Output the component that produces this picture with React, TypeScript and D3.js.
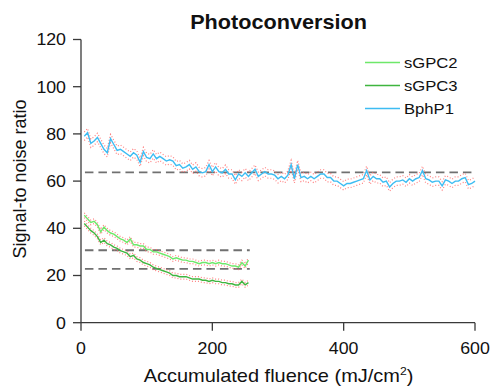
import React from "react";
import * as d3 from "d3";

const bphValues = [
  79, 80.5, 76, 77, 78.5, 76, 73.5, 72, 78, 75.5,
  73, 73.5, 72.5, 71.5, 70.5, 72, 71, 68, 72.5, 70,
  69.5, 71.5, 69.5, 70.5, 69.5, 68.5, 69, 68.5, 66.5, 67,
  65.5, 66, 67, 65, 66, 64, 63.5, 64, 67, 64,
  66, 64, 63.5, 65, 63, 63, 60.5, 63, 62, 63.5,
  62, 63.5, 65, 62, 63, 64, 63, 63, 62.5, 61,
  62, 61, 62.5, 67, 61, 67, 61.5, 62, 61, 62,
  61, 62, 63, 63, 61.5, 61.5, 60, 60, 59, 58,
  59, 59, 59.5, 60, 60.5, 61, 64.5, 60.5, 62, 61,
  61, 59.5, 60, 57.5, 59, 60, 60, 60.5, 59.5, 61,
  60, 61, 61.5, 64.5, 61, 60.5, 59.5, 60, 60, 58,
  60.5, 60, 59, 60, 60, 61, 61.5, 58.5, 59, 60,
];

const sgpc2Values = [
  45.5, 44, 42.5, 43, 41.5, 38.5, 40.5, 39, 38, 37.5,
  36.5, 35.5, 35, 34, 35.5, 33, 33, 32.5, 32.5, 31,
  31, 30, 30, 29.5, 29, 28.5, 28, 27, 27.5, 27,
  26.5, 26.5, 26, 26, 25.5, 25, 25.5, 25.5, 25, 25.5,
  25, 25.5, 25, 25, 24.5, 24, 24, 23.5, 25.5, 24,
  26.5,
];

const sgpc3Values = [
  42, 40.5, 39, 38, 36.5, 34, 35, 33.5, 33, 32,
  31.5, 30.5, 30, 29.5, 28, 28.5, 27, 26.5, 25.5, 25,
  24.5, 23.5, 23, 22.5, 22, 21.5, 21, 20, 20, 19.5,
  19.5, 19.5, 19, 18.5, 18.5, 18.5, 18, 18, 17.5, 18,
  17.5, 17.5, 17, 17, 16.5, 16.5, 16, 16, 17.5, 16,
  17,
];

const fluenceStep = 5;
const bphFluence = bphValues.map((_, i) => (i + 1) * fluenceStep);
const sgpcFluence = sgpc2Values.map((_, i) => (i + 1) * fluenceStep);

const bphPlateau = 63.7;
const sgpc2Plateau = 30.7;
const sgpc3Plateau = 22.8;
const bphSd = 1.8;
const sgpcSd = 1.0;

const xTicks = [0, 200, 400, 600];
const yTicks = [0, 20, 40, 60, 80, 100, 120];

const legendNames = ["sGPC2", "sGPC3", "BphP1"];
const colors = ["#6ee86a", "#3fb53f", "#3dbcf2"];

const FONT = "'Liberation Sans', Arial, Helvetica, sans-serif";
const SX = 1.11;

export default function App() {
  const x = d3.scaleLinear().domain([0, 600]).range([81, 475]);
  const y = d3.scaleLinear().domain([0, 120]).range([322.7, 39.5]);

  const mk = (xs: number[], vs: number[], off: number) =>
    d3
      .line<number>()
      .x((_, i) => x(xs[i]))
      .y((v) => y(v + off))(vs) || "";

  const series = [
    { xs: sgpcFluence, vs: sgpc2Values, sd: sgpcSd, color: colors[0] },
    { xs: sgpcFluence, vs: sgpc3Values, sd: sgpcSd, color: colors[1] },
    { xs: bphFluence, vs: bphValues, sd: bphSd, color: colors[2] },
  ];

  const dashes = [
    { v: bphPlateau, x0: 6, x1: 600 },
    { v: sgpc2Plateau, x0: 6, x1: 257 },
    { v: sgpc3Plateau, x0: 6, x1: 257 },
  ];

  const axisColor = "#3a3a3a";

  return (
    <svg
      width={491}
      height={386}
      style={{ position: "absolute", left: 0, top: 0, background: "#fff" }}
      fontFamily={FONT}
    >
      <rect width={491} height={386} fill="#fff" />
      <text
        transform={`translate(278.5,29) scale(${SX},1)`}
        textAnchor="middle"
        fontSize={19.5}
        fontWeight="bold"
        fill="#111"
      >
        Photoconversion
      </text>

      {/* dashed plateau lines */}
      {dashes.map((d, i) => (
        <line
          key={"d" + i}
          x1={x(d.x0)}
          x2={x(d.x1)}
          y1={y(d.v)}
          y2={y(d.v)}
          stroke="#707070"
          strokeWidth={1.8}
          strokeDasharray="8.5,5"
        />
      ))}

      {/* error dotted bands */}
      {series.map((s, i) => (
        <g key={"e" + i}>
          <path d={mk(s.xs, s.vs, s.sd)} fill="none" stroke="#ff6b6b" strokeWidth={1.2} strokeDasharray="1,2" opacity={0.85} />
          <path d={mk(s.xs, s.vs, -s.sd)} fill="none" stroke="#ff6b6b" strokeWidth={1.2} strokeDasharray="1,2" opacity={0.85} />
        </g>
      ))}

      {/* lines */}
      {series.map((s, i) => (
        <path key={"l" + i} d={mk(s.xs, s.vs, 0)} fill="none" stroke={s.color} strokeWidth={1.4} />
      ))}

      {/* axes */}
      <line x1={81} x2={81} y1={y(120)} y2={y(0)} stroke={axisColor} strokeWidth={1.3} />
      <line x1={81} x2={x(600)} y1={y(0)} y2={y(0)} stroke={axisColor} strokeWidth={1.3} />
      {yTicks.map((t) => (
        <g key={"y" + t}>
          <line x1={73} x2={81} y1={y(t)} y2={y(t)} stroke={axisColor} strokeWidth={1.3} />
          <text
            transform={`translate(66,${y(t) + 5.8}) scale(${SX},1)`}
            textAnchor="end"
            fontSize={16}
            fill="#111"
          >
            {t}
          </text>
        </g>
      ))}
      {xTicks.map((t) => (
        <g key={"x" + t}>
          <line x1={x(t)} x2={x(t)} y1={y(0)} y2={y(0) + 8} stroke={axisColor} strokeWidth={1.3} />
          <text
            transform={`translate(${x(t)},354) scale(${SX},1)`}
            textAnchor="middle"
            fontSize={16}
            fill="#111"
          >
            {t}
          </text>
        </g>
      ))}

      <text
        transform={`translate(278.5,382) scale(${SX},1)`}
        textAnchor="middle"
        fontSize={18}
        fill="#111"
      >
        Accumulated fluence (mJ/cm
        <tspan fontSize={11} dy={-7}>2</tspan>
        <tspan dy={7}>)</tspan>
      </text>

      <text
        transform={`translate(26,179) rotate(-90)`}
        textAnchor="middle"
        fontSize={18}
        fill="#111"
      >
        Signal-to noise ratio
      </text>

      {/* legend */}
      {legendNames.map((n, i) => {
        const ly = 62.5 + i * 23;
        return (
          <g key={"lg" + i}>
            <line x1={365} x2={400} y1={ly} y2={ly} stroke={colors[i]} strokeWidth={1.6} />
            <text
              transform={`translate(404,${ly + 5.3}) scale(${SX},1)`}
              fontSize={15}
              fill="#111"
            >
              {n}
            </text>
          </g>
        );
      })}
    </svg>
  );
}
